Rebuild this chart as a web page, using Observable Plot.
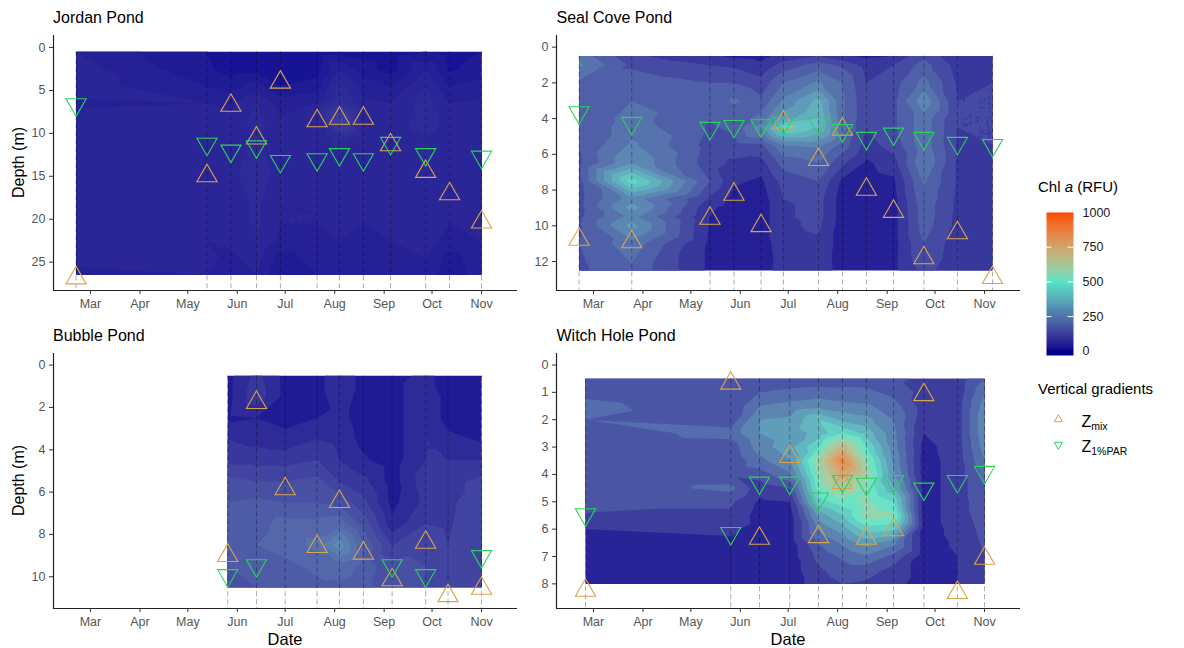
<!DOCTYPE html>
<html>
<head>
<meta charset="utf-8">
<script src="https://cdn.jsdelivr.net/npm/d3@7"></script>
<script src="https://cdn.jsdelivr.net/npm/@observablehq/plot@0.6"></script>
<style>
  body { margin: 0; background: #fff; }
  #chart { position: relative; width: 1184px; height: 648px; overflow: hidden; font-family: "Liberation Sans", Arial, sans-serif; }
  .cell { position: absolute; }
</style>
</head>
<body>
<div id="chart">
  <svg width="1184" height="648" style="position:absolute;left:0;top:0" font-family="Liberation Sans, Arial, sans-serif" fill="#000">
    <text x="53" y="23" font-size="16">Jordan Pond</text>
    <text x="556.5" y="23" font-size="16">Seal Cove Pond</text>
    <text x="53" y="341" font-size="16">Bubble Pond</text>
    <text x="556.5" y="341" font-size="16">Witch Hole Pond</text>
    <text transform="translate(24,162.5) rotate(-90)" text-anchor="middle" font-size="16">Depth (m)</text>
    <text transform="translate(24,480.5) rotate(-90)" text-anchor="middle" font-size="16">Depth (m)</text>
    <text x="285" y="645" text-anchor="middle" font-size="16.5">Date</text>
    <text x="788" y="645" text-anchor="middle" font-size="16.5">Date</text>
    <text x="1038" y="191.5" font-size="15">Chl <tspan font-style="italic">a</tspan> (RFU)</text>
    <text x="1038" y="394" font-size="15">Vertical gradients</text>
    <polygon points="1058.3,414.6 1054.2,421.7 1062.4,421.7" fill="none" stroke="#D9A44E" stroke-width="1"/>
    <text x="1081.5" y="426.5" font-size="16">Z<tspan font-size="10.5" dy="3">mix</tspan></text>
    <polygon points="1058.3,449.4 1054.2,442.3 1062.4,442.3" fill="none" stroke="#2BD35B" stroke-width="1"/>
    <text x="1081.5" y="451.5" font-size="16">Z<tspan font-size="10.5" dy="3">1%PAR</tspan></text>
  </svg>
</div>
<script>
// ---------- shared scales ----------
const chlColors = ["#00008B", "#55E4C6", "#FF4500"];
const chlStops = [0, 500, 1000];
const legendTicks = [0, 250, 500, 750, 1000];
const monthTicks = ["2019-03-01", "2019-04-01", "2019-05-01", "2019-06-01", "2019-07-01",
                    "2019-08-01", "2019-09-01", "2019-10-01", "2019-11-01"];
const dateDomain = ["2019-02-05T20:00:00Z", "2019-11-23T13:00:00Z"];

// ---------- Jordan Pond ----------
const jordanDates = ["2019-02-20", "2019-05-13", "2019-05-28", "2019-06-13", "2019-06-28", "2019-07-21",
                     "2019-08-04", "2019-08-19", "2019-09-05", "2019-09-27", "2019-10-12", "2019-11-01"];
const jordanDepths = [0.5, 2.5, 4.5, 6.5, 8.5, 10.5, 12.5, 14.5, 16.5, 18.5, 20.5, 22.5, 24.5, 26.5];
const jordanChl = [
  [30, 35, 35, 28, 35, 40, 32, 38, 35, 32, 35, 30, 32, 28],
  [10, 12, 20, 30, 35, 32, 35, 38, 35, 32, 34, 30, 32, 30],
  [5, 5, 15, 28, 32, 30, 34, 36, 35, 34, 32, 32, 28, 25],
  [5, 5, 25, 40, 45, 42, 45, 48, 45, 42, 42, 40, 35, 30],
  [5, 5, 10, 25, 32, 30, 32, 35, 32, 30, 30, 28, 15, 10],
  [5, 5, 15, 30, 35, 32, 34, 32, 32, 30, 30, 28, 25, 20],
  [8, 30, 45, 55, 100, 50, 40, 38, 35, 32, 32, 30, 28, 25],
  [5, 15, 25, 32, 35, 32, 34, 34, 32, 32, 30, 28, 25, 22],
  [5, 5, 20, 30, 34, 34, 35, 35, 34, 32, 32, 30, 28, 25],
  [10, 30, 40, 45, 45, 40, 42, 40, 38, 35, 34, 32, 30, 28],
  [5, 8, 20, 30, 35, 35, 35, 34, 34, 32, 30, 28, 15, 12],
  [10, 15, 25, 32, 35, 35, 35, 34, 34, 32, 32, 30, 28, 26]
];
const jordanZmix = [26.85, 14.95, 6.75, 10.55, 4.05, 8.55, 8.25, 8.25, 11.35, 14.45, 17.05, 20.35];
const jordanZpar = [6.65, 11.25, 12.05, 11.55, 13.25, 13.05, 12.45, 13.05, 11.15, 12.45, null, 12.75];

// ---------- Seal Cove Pond ----------
const sealDates = ["2019-02-20", "2019-03-25", "2019-05-13", "2019-05-28", "2019-06-14", "2019-06-28", "2019-07-20",
                   "2019-08-04", "2019-08-19", "2019-09-05", "2019-09-24", "2019-10-15", "2019-11-06"];
const sealDepths = [0.5, 1, 2, 3, 4, 4.5, 5.5, 6.5, 7.5, 8.5, 9, 9.5, 10, 11, 12.5];
const sealChl = [
  [230, 260, 190, 170, 160, 155, 150, 140, 140, 135, 135, 140, 145, 150, 140],
  [110, 140, 180, 200, 220, 230, 260, 300, 480, 280, 320, 270, 320, 230, 190],
  [60, 100, 150, 160, 150, 145, 130, 120, 150, 90, 60, 50, 45, 40, 40],
  [40, 90, 150, 210, 170, 160, 130, 90, 60, 30, 25, 25, 25, 25, 30],
  [30, 60, 120, 160, 220, 280, 140, 80, 40, 25, 25, 25, 25, 25, 30],
  [70, 120, 200, 260, 330, 470, 250, 170, 120, 100, 90, 90, 90, 80, 70],
  [100, 170, 260, 370, 400, 400, 260, 200, 150, 120, 120, 120, 110, 90, 80],
  [60, 140, 200, 210, 210, 220, 180, 110, 40, 25, 25, 25, 25, 25, 30],
  [40, 80, 100, 110, 110, 100, 80, 40, 25, 25, 25, 25, 25, 25, 30],
  [50, 100, 130, 140, 140, 140, 120, 80, 40, 30, 30, 30, 30, 30, 35],
  [140, 170, 220, 290, 230, 230, 230, 250, 210, 190, 180, 180, 175, 150, 120],
  [60, 80, 95, 100, 100, 100, 95, 95, 95, 90, 90, 85, 85, 70, 60],
  [70, 90, 100, 100, 100, 100, 100, 100, 100, 100, 100, 100, 100, 95, 90]
];
const sealZmix = [10.76, 10.9, 9.59, 8.24, 10.0, 4.2, 6.3, 4.6, 7.96, 9.2, 11.8, 10.4, 12.9];
const sealZpar = [3.66, 4.26, 4.54, 4.43, 4.39, 4.25, 4.26, 4.66, 5.1, 4.86, 5.1, 5.38, 5.5];

// ---------- Bubble Pond ----------
const bubbleDates = ["2019-05-26", "2019-06-13", "2019-07-01", "2019-07-21", "2019-08-04",
                     "2019-08-19", "2019-09-06", "2019-09-27", "2019-10-11", "2019-11-01"];
const bubbleDepths = [0.5, 1.5, 2.5, 3.5, 4.5, 5.5, 6.5, 7.5, 8.5, 9.5, 10.5];
const bubbleChl = [
  [20, 20, 25, 60, 80, 130, 150, 160, 160, 150, 140],
  [70, 80, 30, 50, 80, 120, 160, 170, 180, 170, 150],
  [20, 20, 20, 40, 80, 120, 150, 190, 195, 170, 160],
  [15, 15, 30, 60, 90, 130, 150, 190, 220, 190, 170],
  [60, 50, 40, 50, 60, 90, 140, 200, 290, 200, 170],
  [15, 15, 15, 20, 35, 70, 100, 140, 180, 170, 160],
  [15, 15, 15, 15, 15, 15, 20, 40, 90, 130, 130],
  [40, 60, 60, 60, 60, 80, 70, 90, 110, 120, 120],
  [15, 15, 15, 40, 60, 80, 80, 85, 90, 90, 90],
  [20, 20, 20, 25, 60, 100, 120, 120, 120, 120, 120]
];
const bubbleZmix = [9.0, 1.77, 5.85, 8.58, 6.45, 8.89, 10.15, 8.38, 10.9, 10.55];
const bubbleZpar = [9.94, 9.47, null, null, null, null, 9.47, 9.94, null, 9.04];

// ---------- Witch Hole Pond ----------
const witchDates = ["2019-02-24", "2019-05-26", "2019-06-13", "2019-07-02", "2019-07-20", "2019-08-04",
                    "2019-08-19", "2019-09-05", "2019-09-24", "2019-10-15", "2019-11-01"];
const witchDepths = [0.5, 1, 1.5, 2, 2.5, 3, 3.5, 4, 4.5, 5, 5.5, 6, 6.5, 7, 7.5, 8];
const witchChl = [
  [130, 160, 200, 180, 130, 120, 120, 120, 130, 160, 110, 60, 45, 40, 40, 40],
  [120, 120, 130, 140, 210, 140, 130, 130, 200, 130, 110, 70, 50, 40, 40, 40],
  [130, 180, 240, 300, 300, 270, 220, 150, 80, 50, 35, 35, 35, 35, 35, 35],
  [130, 200, 260, 310, 330, 340, 300, 230, 120, 60, 30, 30, 30, 30, 30, 30],
  [140, 210, 280, 420, 380, 480, 600, 560, 520, 450, 320, 250, 180, 140, 110, 90],
  [150, 200, 260, 350, 480, 700, 880, 760, 620, 520, 420, 330, 250, 190, 150, 120],
  [140, 200, 250, 320, 400, 480, 560, 600, 540, 560, 580, 450, 330, 230, 150, 110],
  [130, 160, 210, 240, 260, 270, 290, 310, 370, 480, 560, 430, 260, 160, 100, 80],
  [110, 100, 90, 80, 60, 40, 30, 30, 30, 30, 30, 30, 30, 30, 30, 30],
  [80, 80, 90, 90, 90, 90, 90, 90, 90, 90, 90, 80, 70, 60, 60, 60],
  [180, 230, 270, 290, 290, 270, 240, 200, 170, 160, 150, 140, 130, 120, 110, 110]
];
const witchZmix = [8.24, 0.67, 6.34, 3.35, 6.28, 4.3, 6.34, 6.03, 1.09, 8.32, 7.07];
const witchZpar = [5.47, 6.15, 4.31, 4.31, 4.89, 4.25, 4.35, 4.25, 4.53, 4.25, 3.92];

// ---------- drawing ----------
const toDate = s => new Date(s.length > 10 ? s : s + "T00:00:00Z");
const chart = document.getElementById("chart");
const FONT = '"Liberation Sans", Arial, sans-serif';
const MIX_COLOR = "#D9A44E";
const PAR_COLOR = "#2BD35B";

function panel({left, top, dates, depths, chl, zmix, zpar, yDomain, yTicks, step}) {
  const when = dates.map(toDate);
  const grid = when.flatMap((d, i) => depths.map((z, j) => ({date: d, depth: z, chl: chl[i][j]})));
  const mix = when.map((d, i) => ({date: d, depth: zmix[i]})).filter(p => p.depth != null);
  const par = when.map((d, i) => ({date: d, depth: zpar[i]})).filter(p => p.depth != null);
  const top0 = depths[0], bottom0 = depths[depths.length - 1];
  const maxChl = d3.max(chl.flat());
  const thresholds = d3.range(0, maxChl, step);
  // each filled band takes the colour of its mid level
  const half = step / 2;

  const svg = Plot.plot({
    width: 537, height: 295,
    marginLeft: 53, marginRight: 20, marginTop: 10, marginBottom: 30,
    style: {fontFamily: FONT, fontSize: "12.5px", background: "transparent", overflow: "visible", maxWidth: "none"},
    x: {type: "utc", domain: dateDomain.map(toDate), axis: null},
    y: {domain: yDomain, reverse: true, axis: null},
    color: {type: "linear", domain: chlStops.map(v => v - half), range: chlColors, interpolate: "lab"},
    marks: [
      Plot.contour(grid, {
        x: "date", y: "depth", fill: "chl",
        interpolate: "barycentric", thresholds,
        x1: when[0], x2: when[when.length - 1], y1: top0, y2: bottom0,
        pixelSize: 1, stroke: "none"
      }),
      Plot.ruleX(when, {x: d => d, y1: top0, y2: yDomain[1], stroke: "#000", strokeOpacity: 0.32,
                        strokeDasharray: "5,3", strokeWidth: 1}),
      Plot.dot(mix, {x: "date", y: "depth", symbol: "triangle", r: 7.5, stroke: MIX_COLOR, strokeWidth: 1.1, fill: "none"}),
      Plot.dot(par, {x: "date", y: "depth", symbol: "triangle", rotate: 180, r: 7.5, stroke: PAR_COLOR, strokeWidth: 1.1, fill: "none"}),
      Plot.ruleY([yDomain[1]], {stroke: "#222", strokeWidth: 1.2}),
      Plot.ruleX([toDate(dateDomain[0])], {stroke: "#222", strokeWidth: 1.2}),
      Plot.axisX({ticks: monthTicks.map(toDate), tickFormat: d3.utcFormat("%b"), tickSize: 4, tickPadding: 5,
                  stroke: "#333", fill: "#555", label: null}),
      Plot.axisY({ticks: yTicks, tickSize: 4, tickPadding: 4, stroke: "#333", fill: "#555", label: null})
    ]
  });
  d3.select(svg).selectAll('g[aria-label="contour"]').attr("opacity", 0.93);
  const div = document.createElement("div");
  div.className = "cell";
  div.style.left = left + "px";
  div.style.top = top + "px";
  div.append(svg);
  chart.append(div);
}

panel({left: 0, top: 25, dates: jordanDates, depths: jordanDepths, chl: jordanChl, zmix: jordanZmix, zpar: jordanZpar,
       yDomain: [-1.4, 28.3], yTicks: [0, 5, 10, 15, 20, 25], step: 10});
panel({left: 503, top: 25, dates: sealDates, depths: sealDepths, chl: sealChl, zmix: sealZmix, zpar: sealZpar,
       yDomain: [-0.65, 13.62], yTicks: [0, 2, 4, 6, 8, 10, 12], step: 50});
panel({left: 0, top: 343, dates: bubbleDates, depths: bubbleDepths, chl: bubbleChl, zmix: bubbleZmix, zpar: bubbleZpar,
       yDomain: [-0.55, 11.5], yTicks: [0, 2, 4, 6, 8, 10], step: 30});
panel({left: 503, top: 343, dates: witchDates, depths: witchDepths, chl: witchChl, zmix: witchZmix, zpar: witchZpar,
       yDomain: [-0.42, 8.9], yTicks: [0, 1, 2, 3, 4, 5, 6, 7, 8], step: 60});

// colour bar legend
const bar = Plot.plot({
  width: 67, height: 160,
  marginLeft: 0, marginRight: 40, marginTop: 12, marginBottom: 5,
  style: {fontFamily: FONT, fontSize: "12.5px", background: "transparent", overflow: "visible", maxWidth: "none"},
  x: {domain: [0, 1], axis: null},
  y: {domain: [-30, 1000], axis: null},
  color: {type: "linear", domain: chlStops, range: chlColors, interpolate: "lab", clamp: true},
  marks: [
    Plot.raster({fill: (x, y) => y, x1: 0, x2: 1, y1: -30, y2: 1000, pixelSize: 1}),
    Plot.ruleY(legendTicks.slice(1, -1), {x1: 0, x2: 0.2, stroke: "white", strokeWidth: 1}),
    Plot.ruleY(legendTicks.slice(1, -1), {x1: 0.8, x2: 1, stroke: "white", strokeWidth: 1}),
    Plot.axisY({anchor: "right", ticks: legendTicks, tickFormat: d3.format("d"), tickSize: 0, tickPadding: 9,
                fill: "#1a1a1a", label: null})
  ]
});
const barDiv = document.createElement("div");
barDiv.className = "cell";
barDiv.style.left = "1046px";
barDiv.style.top = "200px";
barDiv.append(bar);
chart.append(barDiv);
</script>
</body>
</html>
